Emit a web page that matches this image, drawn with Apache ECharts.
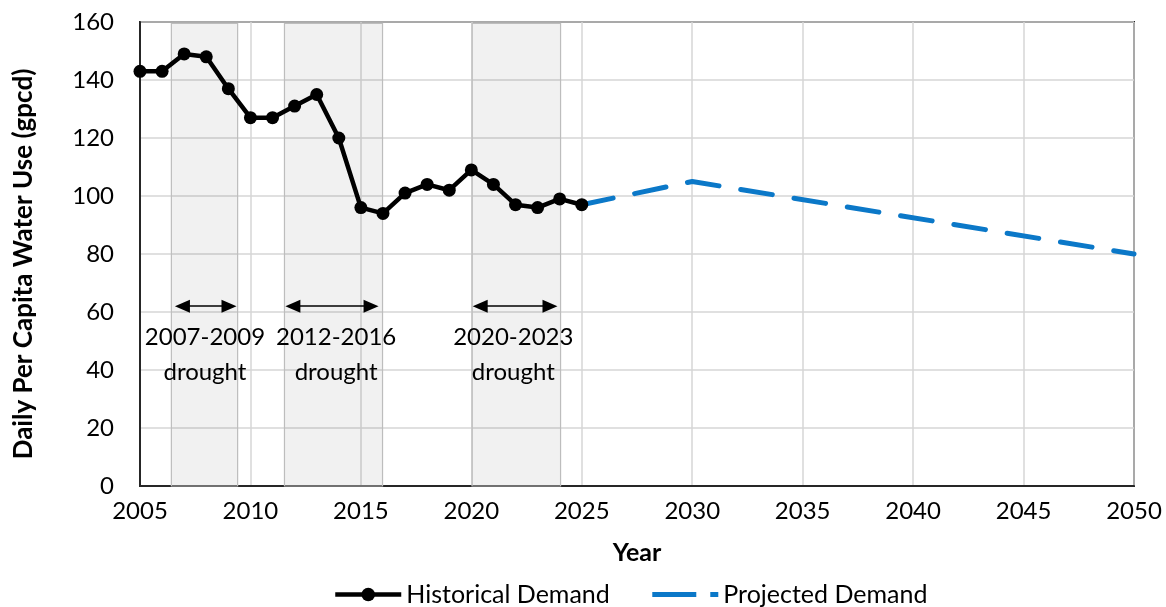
<!DOCTYPE html>
<html>
<head>
<meta charset="utf-8">
<script src="https://cdn.jsdelivr.net/npm/echarts@6/dist/echarts.min.js"></script>
<style>
  html, body { margin: 0; padding: 0; background: #fff; }
  #chart { width: 1166px; height: 607px; }
</style>
</head>
<body>
<div id="chart"></div>
<script>
// Historical per-capita demand, one value per year
const histYears = [2005, 2006, 2007, 2008, 2009, 2010, 2011, 2012, 2013, 2014, 2015,
                   2016, 2017, 2018, 2019, 2020, 2021, 2022, 2023, 2024, 2025];
const histValues = [143, 143, 149, 148, 137, 127, 127, 131, 135, 120, 96,
                    94, 101, 104, 102, 109, 104, 97, 96, 99, 97];

// Projected per-capita demand
const projYears = [2025, 2030, 2050];
const projValues = [97, 105, 80];

// Drought periods: shaded span [start, end] in years, arrow span, label
const droughtShade = [[2006.42, 2009.42], [2011.54, 2015.98], [2020.03, 2024.04]];
const droughtArrow = [[2006.92, 2009.03], [2011.92, 2015.46], [2020.4, 2023.56]];
const droughtLabels = ['2007-2009\ndrought', '2012-2016\ndrought', '2020-2023\ndrought'];
const droughtLabelX = [2007.94, 2013.88, 2021.9];
const shadeTop = 159.5;
const arrowLevel = 62;
const labelLevel = 45.2;

const FONT = 'Lato';
const BLUE = '#0b78c8';

const chart = echarts.init(document.getElementById('chart'), null, { renderer: 'canvas' });

const option = {
  backgroundColor: '#ffffff',
  animation: false,
  textStyle: { fontFamily: FONT },
  grid: {
    left: 140, right: 32, top: 22, bottom: 121,
    show: true, borderColor: '#262626', borderWidth: 2, containLabel: false
  },
  legend: {
    left: 328, top: 577,
    itemWidth: 66, itemHeight: 17, itemGap: 40,
    textStyle: { fontFamily: FONT, fontSize: 25, color: '#000' },
    data: [
      { name: 'Historical Demand', itemStyle: { color: '#000' }, lineStyle: { width: 4.5, color: '#000' } },
      { name: 'Projected Demand', itemStyle: { opacity: 0 }, lineStyle: { width: 5, color: BLUE, type: [44, 14], cap: 'butt' } }
    ]
  },
  xAxis: {
    type: 'value', min: 2005, max: 2050, interval: 5,
    name: 'Year', nameLocation: 'middle', nameGap: 54,
    nameTextStyle: { fontFamily: FONT, fontSize: 25, fontWeight: 'bold', color: '#000' },
    axisLine: { show: true, lineStyle: { color: '#262626', width: 2 } },
    axisTick: { show: false },
    axisLabel: { fontFamily: FONT, fontSize: 24, color: '#000', margin: 13, formatter: v => String(v) },
    splitLine: { show: true, lineStyle: { color: '#d6d6d6', width: 1.5 } }
  },
  yAxis: {
    type: 'value', min: 0, max: 160, interval: 20,
    name: 'Daily Per Capita Water Use (gpcd)', nameLocation: 'middle', nameGap: 103,
    nameTextStyle: { fontFamily: FONT, fontSize: 26, fontWeight: 'bold', color: '#000', padding: [0, 20, 0, 0] },
    axisLine: { show: true, lineStyle: { color: '#262626', width: 2 } },
    axisTick: { show: false },
    axisLabel: { fontFamily: FONT, fontSize: 24, color: '#000', margin: 26 },
    splitLine: { show: true, lineStyle: { color: '#d6d6d6', width: 1.5 } }
  },
  series: [
    {
      name: 'Historical Demand',
      type: 'line',
      data: histYears.map((y, i) => [y, histValues[i]]),
      symbol: 'circle', symbolSize: 13,
      itemStyle: { color: '#000' },
      lineStyle: { color: '#000', width: 4.5 },
      z: 3,
      markArea: {
        silent: true,
        itemStyle: { color: 'rgba(0,0,0,0.055)', borderColor: '#bdbdbd', borderWidth: 1.2 },
        data: droughtShade.map(s => [{ coord: [s[0], 0] }, { coord: [s[1], shadeTop] }])
      },
      markLine: {
        silent: true,
        symbol: ['triangle', 'triangle'],
        symbolSize: [13, 15],
        lineStyle: { color: '#000', width: 1.5, type: 'solid' },
        label: { show: false },
        data: droughtArrow.map(a => [{ coord: [a[0], arrowLevel] }, { coord: [a[1], arrowLevel] }])
      },
      markPoint: {
        silent: true,
        symbol: 'circle', symbolSize: 0,
        label: {
          show: true, position: 'inside', color: '#000',
          fontFamily: FONT, fontSize: 24, lineHeight: 35, align: 'center'
        },
        data: droughtLabels.map((t, i) => ({
          coord: [droughtLabelX[i], labelLevel],
          label: { formatter: t }
        }))
      }
    },
    {
      name: 'Projected Demand',
      type: 'line',
      data: projYears.map((y, i) => [y, projValues[i]]),
      symbol: 'none',
      itemStyle: { color: BLUE },
      lineStyle: { color: BLUE, width: 5, type: [32, 22], cap: 'round' },
      z: 2
    }
  ]
};

chart.setOption(option);
</script>
</body>
</html>
